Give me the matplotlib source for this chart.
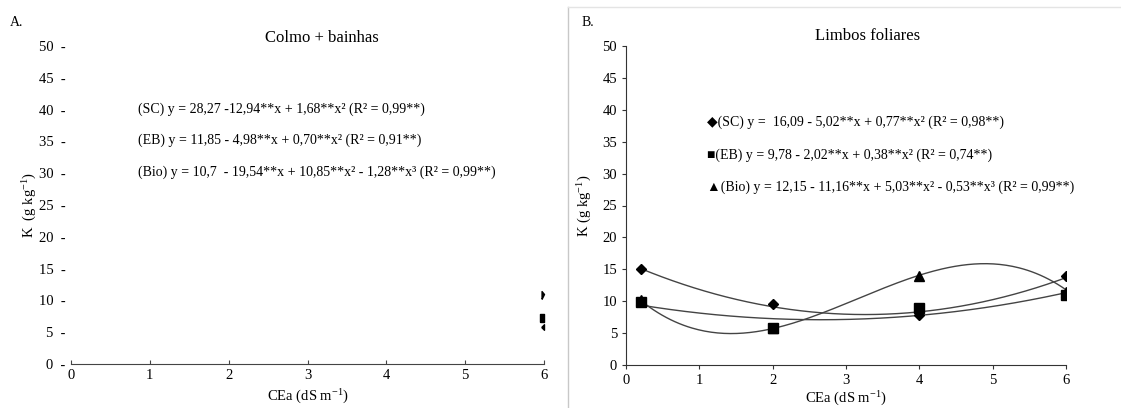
import numpy as np
import matplotlib
matplotlib.use('Agg')
import matplotlib.pyplot as plt
from matplotlib.lines import Line2D

plt.rcParams['font.family'] = ['Liberation Serif', 'DejaVu Serif']
plt.rcParams['mathtext.fontset'] = 'custom'
plt.rcParams['mathtext.rm'] = 'Liberation Serif'
plt.rcParams['mathtext.it'] = 'Liberation Serif:italic'

# CEa levels (dS m-1)
cea = [0.2, 2, 4, 6]

# A. Colmo + bainhas (only the last points are visible in the figure)
colmo_x = [6]
colmo_sc = [5.8]
colmo_eb = [7.2]
colmo_bio = [11.0]
colmo_eqs = ['(SC) y = 28,27 -12,94**x + 1,68**x² (R² = 0,99**)',
             '(EB) y = 11,85 - 4,98**x + 0,70**x² (R² = 0,91**)',
             '(Bio) y = 10,7  - 19,54**x + 10,85**x² - 1,28**x³ (R² = 0,99**)']

# B. Limbos foliares
limbo_sc = [15.0, 9.6, 7.9, 14.0]
limbo_eb = [9.8, 5.8, 9.0, 11.0]
limbo_bio = [10.2, 5.8, 14.0, 11.5]
coef_sc = [16.09, -5.02, 0.77]
coef_eb = [9.78, -2.02, 0.38]
coef_bio = [12.15, -11.16, 5.03, -0.53]
limbo_eqs = ['◆(SC) y =  16,09 - 5,02**x + 0,77**x² (R² = 0,98**)',
             '■(EB) y = 9,78 - 2,02**x + 0,38**x² (R² = 0,74**)',
             '▲(Bio) y = 12,15 - 11,16**x + 5,03**x² - 0,53**x³ (R² = 0,99**)']

yticks = [0, 5, 10, 15, 20, 25, 30, 35, 40, 45, 50]
xlab = r'CEa (dS m$^{\mathrm{-1}}$)'

# markers cut at the right edge of panel A (only the left half shows)
half_tri = [(-0.5, -1), (-0.5, 0.6), (0, 0), (-0.5, -1)]
half_sq = [(-1, -1), (0, -1), (0, 1), (-1, 1), (-1, -1)]
half_dia = [(-1, 0), (0, 1), (0, -1), (-1, 0)]

fig = plt.figure(figsize=(11.21, 4.08), dpi=100)
# frame of panel B
fig.add_artist(Line2D([568 / 1121, 568 / 1121], [0, 1 - 7 / 408],
                      transform=fig.transFigure, color='#c8c8c8', lw=1))
fig.add_artist(Line2D([568 / 1121, 1], [1 - 7 / 408, 1 - 7 / 408],
                      transform=fig.transFigure, color='#e4e4e4', lw=1))

# ---- panel A
ax1 = fig.add_axes([71 / 1121, 1 - 364 / 408, 473 / 1121, 318 / 408])
ax1.set_xlim(0, 6)
ax1.set_ylim(0, 50)
for s in ['top', 'right', 'left']:
    ax1.spines[s].set_visible(False)
ax1.spines['bottom'].set_color('#444444')
ax1.set_xticks(range(7))
ax1.tick_params(axis='x', direction='in', length=3, labelsize=10.5, color='#444444')
ax1.set_yticks(yticks)
ax1.set_yticklabels([f'{v}  -' for v in yticks])
ax1.tick_params(axis='y', length=0, labelsize=10.5, pad=4)
ax1.plot(colmo_x, colmo_bio, marker=half_tri, ms=7, color='black', ls='none', clip_on=False)
ax1.plot(colmo_x, colmo_eb, marker=half_sq, ms=6, color='black', ls='none', clip_on=False)
ax1.plot(colmo_x, colmo_sc, marker=half_dia, ms=4, color='black', ls='none', clip_on=False)
ax1.set_xlabel(xlab, fontsize=10.5, labelpad=4)
ax1.set_ylabel(r'K  (g kg$^{\mathrm{-1}}$)', fontsize=10.5, labelpad=0)
ax1.set_title('Colmo + bainhas', fontsize=12, pad=0, x=0.53)
for yy, eq in zip([40.1, 35.2, 30.2], colmo_eqs):
    ax1.text(0.85, yy, eq, fontsize=10, va='center')
fig.text(10 / 1121, 1 - 22 / 408, 'A.', fontsize=10, va='center')

# ---- panel B
ax2 = fig.add_axes([626 / 1121, 1 - 365 / 408, 440 / 1121, 319 / 408])
ax2.set_xlim(0, 6)
ax2.set_ylim(0, 50)
for s in ['top', 'right']:
    ax2.spines[s].set_visible(False)
for s in ['bottom', 'left']:
    ax2.spines[s].set_color('#333333')
ax2.set_xticks(range(7))
ax2.set_yticks(yticks)
ax2.tick_params(length=3, labelsize=10.5, color='#333333')
xs = np.linspace(cea[0], cea[-1], 200)
for coef in [coef_sc, coef_eb, coef_bio]:
    ys = sum(c * xs ** i for i, c in enumerate(coef))
    ax2.plot(xs, ys, color='#444444', lw=1)
ax2.plot(cea, limbo_sc, 'D', ms=5, color='black')
ax2.plot(cea, limbo_bio, '^', ms=7, color='black')
ax2.plot(cea, limbo_eb, 's', ms=7, color='black')
ax2.set_xlabel(xlab, fontsize=10.5, labelpad=2)
ax2.set_ylabel(r'K (g kg$^{\mathrm{-1}}$)', fontsize=10.5, labelpad=6)
ax2.set_title('Limbos foliares', fontsize=12, pad=4, x=0.55)
for yy, eq in zip([38.1, 32.9, 27.9], limbo_eqs):
    ax2.text(1.1, yy, eq, fontsize=10, va='center', family=['Liberation Serif', 'DejaVu Sans'])
fig.text(582 / 1121, 1 - 22 / 408, 'B.', fontsize=10, va='center')

fig.savefig('out.png', dpi=100)
